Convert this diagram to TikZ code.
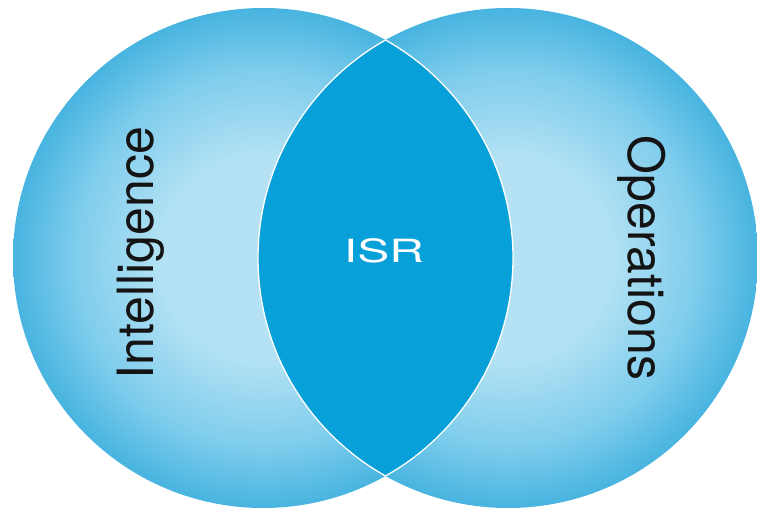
\documentclass[tikz,border=0pt]{standalone}
\usepackage{fontspec}
\setmainfont{TeX Gyre Heros}
\definecolor{vdark}{RGB}{72,180,224}
\definecolor{vmid}{RGB}{125,204,236}
\definecolor{vlight}{RGB}{180,226,244}
\definecolor{lensblue}{RGB}{8,160,216}
\definecolor{textdark}{RGB}{20,20,20}
\pgfdeclareradialshading{vennshade}{\pgfpoint{0bp}{0bp}}{color(0bp)=(vlight); color(10bp)=(vlight); color(19bp)=(vmid); color(25bp)=(vdark); color(50bp)=(vdark)}
\tikzset{
  vennset/.style={shading=vennshade},
  lensfill/.style={fill=lensblue},
  lensedge/.style={draw=white, line width=1.3pt},
  sidelabel/.style={font=\fontsize{50}{50}\selectfont, text=textdark, inner sep=0pt},
  centerlabel/.style={font=\fontsize{32}{32}\selectfont, text=white, inner sep=0pt}
}
\begin{document}
\begin{tikzpicture}[x=1pt,y=-1pt]
\useasboundingbox (0,0) rectangle (757,510);
\coordinate (L) at (263,258);
\coordinate (R) at (508,258);
% the two sets
\shade[vennset] (L) ellipse [x radius=250, y radius=250];
\shade[vennset] (R) ellipse [x radius=250, y radius=250];
% intersection lens
\begin{scope}
  \clip (L) ellipse [x radius=250, y radius=250];
  \fill[lensfill] (R) ellipse [x radius=250, y radius=250];
  \draw[lensedge] (R) ellipse [x radius=250, y radius=250];
\end{scope}
\begin{scope}
  \clip (R) ellipse [x radius=250, y radius=250];
  \draw[lensedge] (L) ellipse [x radius=250, y radius=250];
\end{scope}
% labels
\node[sidelabel, rotate=90, anchor=base] (intel) at (153,253) {Intelligence};
\node[sidelabel, rotate=-90, anchor=base] (ops) at (628,258) {Operations};
\node[centerlabel, anchor=base] (isr) at (384,263) {\scalebox{1.5}[1]{ISR}};
\end{tikzpicture}
\end{document}
